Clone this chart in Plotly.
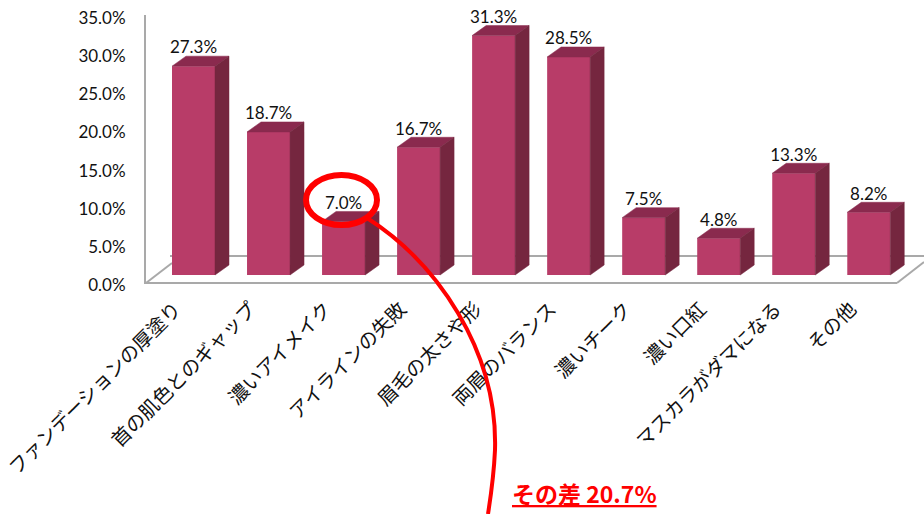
import plotly.graph_objects as go

categories = ["ファンデーションの厚塗り", "首の肌色とのギャップ", "濃いアイメイク", "アイラインの失敗",
              "眉毛の太さや形", "両眉のバランス", "濃いチーク", "濃い口紅", "マスカラがダマになる", "その他"]
values = [27.3, 18.7, 7.0, 16.7, 31.3, 28.5, 7.5, 4.8, 13.3, 8.2]
y_ticks = [0, 5, 10, 15, 20, 25, 30, 35]

W, H = 924, 514
FRONT, TOP, SIDE = "#B83C68", "#8A2A4E", "#75263F"
GRAY = "#A9A9A9"
LATO = "Lato, sans-serif"
JP = "Noto Sans CJK JP"

# bar pixel geometry
step = 75.03
first_center = 193.5
px_per_pct = 7.65
bar_w = 43 / step
dx = 14 / step
dy = 10 / px_per_pct
label_gap = 1.5 / px_per_pct
floor_y = 285


def px(x):
    return x / W


def py(y):
    return 1 - y / H


def line(x0, y0, x1, y1):
    return dict(type="line", xref="paper", yref="paper", layer="below",
                x0=px(x0), y0=py(y0), x1=px(x1), y1=py(y1),
                line=dict(color=GRAY, width=2))


xs = list(range(len(values)))
fig = go.Figure()

# top and side faces of each bar
for i, v in zip(xs, values):
    l, r = i - bar_w / 2, i + bar_w / 2
    fig.add_trace(go.Scatter(x=[l, r, r + dx, l + dx, l], y=[v, v, v + dy, v + dy, v],
                             mode="lines", fill="toself", fillcolor=TOP,
                             line=dict(color=TOP, width=0.5), hoverinfo="skip"))
    fig.add_trace(go.Scatter(x=[r, r + dx, r + dx, r, r], y=[0, dy, v + dy, v, 0],
                             mode="lines", fill="toself", fillcolor=SIDE,
                             line=dict(color=SIDE, width=0.5), hoverinfo="skip"))

fig.add_trace(go.Bar(x=xs, y=values, width=bar_w, marker=dict(color=FRONT, line=dict(width=0))))

fig.add_trace(go.Scatter(x=xs, y=[v + dy - label_gap for v in values], mode="text",
                         text=[f"{v:.1f}%" for v in values], textposition="top center",
                         textfont=dict(family=LATO, size=17, color="#111111"),
                         cliponaxis=False, hoverinfo="skip"))

# only there so the shifted tick-label axis gets drawn
fig.add_trace(go.Scatter(x=[0, 0], y=[0, 35], yaxis="y2", mode="lines",
                         line=dict(width=0), opacity=0, hoverinfo="skip"))

shapes = [
    line(145, 15, 145, 284),
    line(145, 283, 897, 283),
    line(146, 283, 172, 263),
    line(170, 256, 924, 256),
    line(897, 283, 924, 262),
    dict(type="circle", xref="paper", yref="paper", x0=px(306), x1=px(377), y0=py(175), y1=py(225),
         line=dict(color="#FF0000", width=6)),
    dict(type="path", xref="paper", yref="paper",
         path=f"M {px(367)} {py(218)} C {px(436)} {py(262)} {px(498)} {py(350)} {px(495)} {py(450)} "
              f"C {px(494)} {py(472)} {px(491)} {py(495)} {px(488)} {py(514)}",
         line=dict(color="#FF0000", width=4)),
]

fig.update_layout(
    width=W, height=H,
    margin=dict(l=0, r=0, t=0, b=0),
    paper_bgcolor="white", plot_bgcolor="rgba(0,0,0,0)",
    showlegend=False,
    shapes=shapes,
    xaxis=dict(range=[-first_center / step, (W - first_center) / step],
               tickmode="array", tickvals=[i - 0.24 for i in xs], ticktext=categories,
               tickangle=-45, ticks="outside", ticklen=4, tickcolor="rgba(0,0,0,0)",
               tickfont=dict(family=JP, size=19.5, color="#111111"),
               ticklabeloverflow="allow",
               showgrid=False, zeroline=False, showline=False, automargin=False),
    yaxis=dict(domain=[(H - floor_y) / H, 1], range=[-10 / px_per_pct, (floor_y - 10) / px_per_pct],
               showticklabels=False, showgrid=False, zeroline=False, showline=False, automargin=False),
    yaxis2=dict(overlaying="y", side="left", anchor="free", position=145 / W,
                range=[0, floor_y / 7.63], tickmode="array", tickvals=y_ticks,
                ticktext=[f"{t:.1f}%" for t in y_ticks],
                ticks="outside", ticklen=16, tickcolor="rgba(0,0,0,0)",
                tickfont=dict(family=LATO, size=17, color="#111111"),
                ticklabeloverflow="allow",
                showgrid=False, zeroline=False, showline=False, automargin=False),
    annotations=[dict(xref="paper", yref="paper", x=px(510), y=py(493), xanchor="left", yanchor="middle",
                      text="<b><u>その差 20.7%</u></b>", showarrow=False,
                      font=dict(family=JP, size=23, color="#FF0000"))],
)

# drop the default page margin so the figure fills the window
fig.write_html("out.html", config=dict(displayModeBar=False),
               post_script="document.body.style.margin = '0';")
